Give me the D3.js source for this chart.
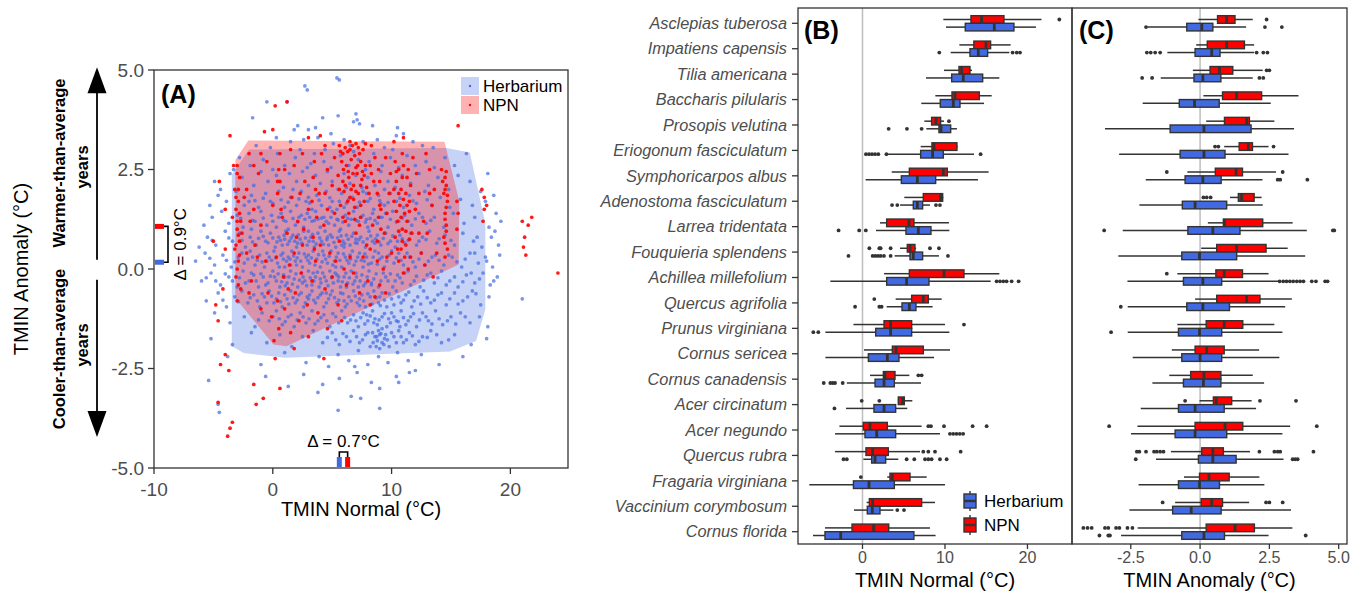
<!DOCTYPE html>
<html><head><meta charset="utf-8">
<script src="https://cdn.jsdelivr.net/npm/d3@7"></script>
<style>body{margin:0;background:#fff}svg{display:block;font-family:"Liberation Sans",Arial,Helvetica,sans-serif}</style>
</head><body><svg id="c" width="1365" height="605"></svg>
<script>
// ---------------- DATA ----------------
const groups = ["Herbarium", "NPN"];
const groupColors = {Herbarium: "#4169E1", NPN: "#FF0000"};
const xTicksA = [-10, 0, 10, 20];
const yTicksA = [-5, -2.5, 0, 2.5, 5];
const xTicksB = [0, 10, 20];
const xTicksC = [-2.5, 0, 2.5, 5];
const meanNormal = {Herbarium: 5.6, NPN: 6.3};
const meanAnomaly = {Herbarium: 0.17, NPN: 1.07};

const herbariumHull = [[-3.45,2.37],[-2.0,3.0],[14.6,3.04],[16.58,2.93],[17.89,1.15],[17.89,-1.02],[17.11,-1.81],[14.92,-2.07],[1.0,-2.23],[-2.44,-2.11],[-3.45,-1.94]];
const npnHull = [[-3.15,2.74],[-2.06,3.23],[14.45,3.2],[15.7,1.7],[15.64,0.11],[1.16,-1.94],[0.06,-1.9],[-3.15,-0.73]];

const herbariumPoints = [
[5.4,4.8],[5.6,4.75],[2.7,4.6],[2.9,4.5],[-0.5,4.2],[1.2,4.2],[4.2,3.8],[5.5,3.85],[7.0,3.9],[7.1,3.75],[-1.7,3.8],[2.1,3.6],[3.6,3.55],[8.4,3.6],[10.5,3.55],[7.3,3.65],[6.8,3.7],[1.8,3.5],[3.0,3.5],[4.9,3.4],[10.4,3.35],[11.0,3.4],
[0.3,3.3],[1.5,3.2],[2.6,3.25],[3.8,3.3],[5.1,3.15],[6.0,3.25],[6.5,3.1],[7.6,3.2],[8.8,3.25],[9.4,3.05],[11.8,3.2],[12.6,3.1],[-1.4,3.1],[-0.2,3.05],[13.5,3.05],[4.4,3.0],[10.1,3.0],[2.3,3.0],
[-2.8,2.8],[-1.9,2.6],[-0.8,2.75],[0.4,2.9],[1.0,2.6],[1.9,2.8],[2.9,2.55],[3.5,2.9],[4.3,2.7],[4.9,2.55],[5.7,2.85],[6.4,2.6],[7.2,2.75],[7.8,2.5],[8.5,2.9],[9.2,2.6],[9.9,2.8],[10.6,2.55],[11.3,2.85],[12.0,2.6],[12.9,2.7],[13.6,2.55],[14.5,2.8],[15.3,2.6],[16.3,2.9],[-3.3,2.5],[0.0,2.5],[6.8,2.95],[3.2,2.65],[8.1,2.7],
[-4.9,2.2],[-3.6,2.4],[-2.6,2.3],[-1.6,2.1],[-1.0,2.45],[-0.4,2.2],[0.3,2.35],[0.9,2.05],[1.4,2.4],[2.0,2.2],[2.5,2.45],[3.0,2.1],[3.6,2.35],[4.0,2.15],[4.6,2.45],[5.0,2.2],[5.5,2.0],[6.0,2.4],[6.5,2.15],[7.0,2.35],[7.5,2.05],[8.0,2.3],[8.6,2.1],[9.1,2.45],[9.7,2.2],[10.3,2.05],[10.9,2.35],[11.6,2.15],[12.3,2.4],[13.1,2.1],[13.9,2.3],[14.8,2.0],[15.6,2.35],[16.6,2.2],[17.5,1.95],[18.1,2.4],[-4.4,2.0],[1.7,2.0],[6.2,2.05],[9.4,2.0],
[-5.3,1.6],[-4.6,1.85],[-3.9,1.7],[-3.1,1.95],[-2.4,1.6],[-1.8,1.85],[-1.2,1.55],[-0.6,1.9],[0.0,1.65],[0.5,1.95],[1.0,1.55],[1.5,1.8],[2.0,1.6],[2.4,1.95],[2.8,1.7],[3.3,1.5],[3.7,1.85],[4.1,1.6],[4.5,1.95],[5.0,1.7],[5.4,1.5],[5.8,1.9],[6.2,1.65],[6.7,1.8],[7.1,1.55],[7.6,1.95],[8.0,1.7],[8.5,1.5],[8.9,1.85],[9.4,1.6],[9.9,1.9],[10.4,1.7],[11.0,1.55],[11.5,1.85],[12.1,1.65],[12.8,1.95],[13.4,1.6],[14.1,1.8],[14.9,1.55],[15.8,1.75],[16.8,1.6],[17.9,1.7],[18.6,1.85],[-2.0,1.7],[3.0,1.8],[6.0,1.55],[9.1,1.65],[4.8,1.55],[7.9,1.9],
[-5.8,1.1],[-5.1,1.3],[-4.3,1.45],[-3.7,1.15],[-3.0,1.35],[-2.5,1.05],[-2.0,1.4],[-1.5,1.2],[-1.0,1.45],[-0.5,1.1],[-0.1,1.35],[0.3,1.05],[0.7,1.4],[1.1,1.2],[1.5,1.45],[1.9,1.1],[2.2,1.3],[2.6,1.05],[2.9,1.4],[3.3,1.2],[3.6,1.45],[4.0,1.05],[4.3,1.3],[4.7,1.15],[5.0,1.45],[5.4,1.25],[5.7,1.0],[6.1,1.35],[6.4,1.1],[6.8,1.45],[7.2,1.2],[7.6,1.35],[8.0,1.05],[8.4,1.4],[8.8,1.15],[9.2,1.3],[9.7,1.05],[10.1,1.45],[10.6,1.2],[11.1,1.35],[11.7,1.1],[12.3,1.4],[12.9,1.15],[13.6,1.3],[14.4,1.05],[15.2,1.4],[16.1,1.15],[17.0,1.3],[18.2,1.05],[18.8,1.4],[19.2,1.2],[1.3,1.0],[3.8,1.25],[6.6,1.25],[9.5,1.4],[-1.8,1.0],[2.4,1.35],[5.2,1.1],[7.9,1.25],
[-6.2,0.55],[-5.5,0.8],[-4.8,0.6],[-4.0,0.95],[-3.4,0.7],[-2.8,0.9],[-2.3,0.55],[-1.9,0.8],[-1.4,0.6],[-1.0,0.95],[-0.6,0.7],[-0.2,0.9],[0.2,0.55],[0.5,0.8],[0.8,0.6],[1.1,0.95],[1.4,0.7],[1.7,0.85],[2.0,0.55],[2.3,0.75],[2.6,0.95],[2.9,0.6],[3.2,0.8],[3.5,0.55],[3.8,0.9],[4.1,0.7],[4.4,0.95],[4.7,0.6],[5.0,0.8],[5.3,0.55],[5.6,0.95],[5.9,0.7],[6.2,0.85],[6.5,0.6],[6.8,0.9],[7.1,0.65],[7.4,0.8],[7.8,0.55],[8.1,0.95],[8.4,0.7],[8.8,0.85],[9.1,0.6],[9.5,0.9],[9.9,0.7],[10.3,0.55],[10.7,0.85],[11.1,0.65],[11.6,0.9],[12.1,0.6],[12.6,0.8],[13.2,0.95],[13.8,0.65],[14.5,0.85],[15.3,0.6],[16.0,0.9],[16.9,0.7],[17.6,0.55],[18.4,0.8],[19.0,0.6],[18.7,0.95],[1.0,0.75],[2.1,0.65],[3.4,0.7],[4.6,0.8],[5.8,0.6],[7.0,0.75],[8.6,0.65],[3.0,0.95],[6.0,0.55],
[-6.5,0.2],[-5.7,0.4],[-4.9,0.1],[-4.2,0.35],[-3.5,0.05],[-2.9,0.3],[-2.4,0.15],[-1.9,0.45],[-1.5,0.1],[-1.1,0.35],[-0.7,0.05],[-0.3,0.3],[0.1,0.45],[0.4,0.15],[0.7,0.35],[1.0,0.05],[1.3,0.3],[1.6,0.45],[1.9,0.2],[2.2,0.4],[2.5,0.05],[2.8,0.3],[3.1,0.15],[3.4,0.45],[3.7,0.25],[4.0,0.05],[4.3,0.35],[4.6,0.15],[4.9,0.45],[5.2,0.2],[5.5,0.4],[5.8,0.05],[6.1,0.3],[6.4,0.15],[6.7,0.45],[7.0,0.2],[7.3,0.4],[7.6,0.05],[7.9,0.3],[8.3,0.15],[8.6,0.45],[9.0,0.25],[9.4,0.05],[9.8,0.35],[10.2,0.15],[10.6,0.4],[11.0,0.1],[11.5,0.3],[12.0,0.05],[12.5,0.4],[13.1,0.2],[13.7,0.35],[14.4,0.1],[15.1,0.3],[15.9,0.05],[16.6,0.4],[17.3,0.15],[17.9,0.3],[18.5,0.05],[19.1,0.35],[0.9,0.25],[2.0,0.1],[3.0,0.35],[4.2,0.45],[5.3,0.05],[6.5,0.35],[7.7,0.2],[8.9,0.4],[-0.5,0.2],[1.5,0.1],
[-6.0,-0.3],[-5.2,-0.1],[-4.4,-0.4],[-3.7,-0.2],[-3.0,-0.45],[-2.5,-0.05],[-2.0,-0.3],[-1.6,-0.15],[-1.2,-0.45],[-0.8,-0.2],[-0.4,-0.35],[0.0,-0.05],[0.3,-0.3],[0.6,-0.45],[0.9,-0.15],[1.2,-0.35],[1.5,-0.05],[1.8,-0.25],[2.1,-0.45],[2.4,-0.1],[2.7,-0.3],[3.0,-0.05],[3.3,-0.4],[3.6,-0.2],[3.9,-0.45],[4.2,-0.1],[4.5,-0.3],[4.8,-0.05],[5.1,-0.35],[5.4,-0.15],[5.7,-0.45],[6.0,-0.2],[6.3,-0.35],[6.6,-0.05],[6.9,-0.3],[7.2,-0.45],[7.5,-0.15],[7.8,-0.35],[8.1,-0.05],[8.5,-0.25],[8.9,-0.45],[9.3,-0.1],[9.7,-0.3],[10.1,-0.45],[10.5,-0.15],[10.9,-0.35],[11.4,-0.05],[11.9,-0.3],[12.4,-0.45],[13.0,-0.15],[13.6,-0.35],[14.2,-0.05],[14.9,-0.3],[15.6,-0.45],[16.3,-0.15],[17.0,-0.35],[17.7,-0.1],[18.3,-0.4],[18.9,-0.2],[1.0,-0.2],[2.5,-0.35],[4.0,-0.25],[5.5,-0.3],[7.0,-0.1],[8.3,-0.4],[3.4,-0.1],[6.2,-0.45],
[-5.6,-0.8],[-4.6,-0.6],[-3.9,-0.95],[-3.2,-0.7],[-2.6,-0.55],[-2.1,-0.85],[-1.6,-0.65],[-1.1,-0.95],[-0.7,-0.7],[-0.3,-0.55],[0.1,-0.85],[0.5,-0.6],[0.8,-0.95],[1.2,-0.75],[1.5,-0.55],[1.9,-0.85],[2.2,-0.65],[2.6,-0.95],[2.9,-0.7],[3.3,-0.55],[3.6,-0.85],[4.0,-0.65],[4.3,-0.95],[4.7,-0.75],[5.0,-0.55],[5.4,-0.85],[5.7,-0.6],[6.1,-0.95],[6.4,-0.7],[6.8,-0.55],[7.1,-0.85],[7.5,-0.65],[7.8,-0.95],[8.2,-0.7],[8.5,-0.55],[8.9,-0.85],[9.2,-0.6],[9.6,-0.95],[10.0,-0.75],[10.4,-0.55],[10.8,-0.85],[11.2,-0.65],[11.7,-0.95],[12.2,-0.7],[12.7,-0.55],[13.3,-0.85],[13.9,-0.65],[14.6,-0.9],[15.3,-0.6],[16.0,-0.8],[16.8,-0.55],[17.5,-0.9],[18.2,-0.7],[3.0,-0.75],[6.0,-0.8],[9.0,-0.7],[4.5,-0.6],[7.3,-0.75],
[-4.9,-1.1],[-3.6,-1.35],[-2.4,-1.2],[-1.5,-1.45],[-0.9,-1.1],[-0.3,-1.3],[0.3,-1.05],[0.8,-1.4],[1.3,-1.2],[1.8,-1.45],[2.3,-1.1],[2.8,-1.35],[3.3,-1.05],[3.8,-1.3],[4.3,-1.15],[4.8,-1.45],[5.3,-1.2],[5.8,-1.05],[6.3,-1.35],[6.8,-1.15],[7.2,-1.45],[7.6,-1.1],[8.0,-1.3],[8.4,-1.05],[8.8,-1.4],[9.2,-1.2],[9.6,-1.45],[10.0,-1.1],[10.4,-1.3],[10.8,-1.05],[11.2,-1.4],[11.6,-1.2],[12.1,-1.45],[12.6,-1.1],[13.1,-1.3],[13.7,-1.05],[14.3,-1.4],[15.0,-1.2],[15.8,-1.1],[16.6,-1.35],[17.4,-1.2],[18.1,-1.45],[8.6,-1.25],[9.9,-1.35],[7.9,-1.15],[10.7,-1.45],
[-5.2,-1.75],[-3.4,-1.9],[-1.8,-1.6],[-0.5,-1.85],[0.6,-1.65],[1.6,-1.95],[2.5,-1.7],[3.4,-1.55],[4.2,-1.85],[5.0,-1.6],[5.6,-1.9],[6.2,-1.7],[6.8,-1.55],[7.3,-1.85],[7.8,-1.65],[8.2,-1.95],[8.6,-1.7],[8.9,-1.55],[9.2,-1.85],[9.5,-1.65],[9.8,-1.95],[10.2,-1.7],[10.6,-1.55],[11.0,-1.85],[11.5,-1.6],[12.0,-1.9],[12.6,-1.7],[13.3,-1.55],[14.2,-1.85],[15.3,-1.65],[16.7,-1.9],[18.0,-1.75],[8.8,-1.8],[9.0,-1.65],[9.4,-1.75],[8.4,-1.6],
[-3.8,-2.2],[-1.0,-2.4],[1.0,-2.1],[2.8,-2.35],[3.9,-2.2],[4.7,-2.45],[5.5,-2.15],[6.4,-2.3],[7.2,-2.05],[8.0,-2.4],[8.9,-2.2],[9.7,-2.35],[10.5,-2.1],[11.4,-2.3],[12.5,-2.15],[14.0,-2.4],[16.0,-2.2],[6.9,-2.45],
[-5.4,-2.8],[-0.6,-2.7],[2.6,-2.65],[4.2,-2.9],[5.6,-2.75],[7.1,-2.6],[8.3,-2.85],[9.0,-3.0],[10.4,-2.7],[11.5,-2.6],[10.6,-2.85],[12.0,-2.55],[6.6,-3.2],[7.4,-3.25],[9.0,-3.5],[5.5,-3.55],[-4.6,-3.4],[-4.5,-3.6],[3.8,-3.1],[1.3,-2.95],[21.0,-0.75],
[-1.5,1.72],[-0.8,1.78],[-0.2,1.7],[0.7,1.74],[1.3,1.68],[2.2,1.76],[3.1,1.66],[3.9,1.73],[4.8,1.79],[5.6,1.7],[6.4,1.75],[7.3,1.68],[8.2,1.77],[9.0,1.72],[9.7,1.67],[10.7,1.78],[11.8,1.71],[13.0,1.74],
[-2.7,1.27],[-1.7,1.22],[-0.8,1.28],[0.0,1.2],[0.5,1.3],[0.9,1.23],[1.7,1.27],[2.1,1.18],[2.7,1.25],[3.1,1.3],[3.5,1.22],[4.1,1.28],[4.5,1.2],[4.9,1.3],[5.5,1.23],[5.9,1.18],[6.3,1.27],[7.0,1.22],[7.4,1.3],[7.8,1.18],[8.2,1.27],[8.6,1.22],[9.0,1.3],[9.9,1.25],[10.4,1.18],[10.9,1.28],[11.4,1.2],[12.0,1.26],[12.6,1.3],[13.3,1.22],
[-5.1,0.72],[-3.7,0.78],[-2.6,0.72],[-1.7,0.68],[-1.2,0.77],[-0.8,0.82],[-0.4,0.66],[0.0,0.78],[0.35,0.68],[0.65,0.72],[0.95,0.85],[1.25,0.62],[1.55,0.78],[1.85,0.7],[2.15,0.86],[2.45,0.65],[2.75,0.78],[3.05,0.7],[3.35,0.87],[3.65,0.63],[3.95,0.78],[4.25,0.62],[4.55,0.74],[4.85,0.86],[5.15,0.67],[5.45,0.78],[5.75,0.83],[6.05,0.64],[6.35,0.75],[6.65,0.82],[6.95,0.66],[7.25,0.74],[7.6,0.68],[7.95,0.76],[8.25,0.83],[8.65,0.76],[8.95,0.68],[9.3,0.77],[9.7,0.64],[10.1,0.83],[10.5,0.7],[10.9,0.76],[11.4,0.72],[12.3,0.7],[12.9,0.74],[14.0,0.76],[15.0,0.72],[17.2,0.8],
[-5.3,0.27],[-3.9,0.22],[-3.2,0.18],[-2.6,0.4],[-2.1,0.25],[-1.7,0.3],[-1.3,0.22],[-0.9,0.18],[-0.5,0.4],[-0.1,0.22],[0.25,0.28],[0.55,0.05],[0.85,0.4],[1.15,0.2],[1.45,0.25],[1.75,0.33],[2.05,0.28],[2.35,0.2],[2.65,0.38],[2.95,0.22],[3.25,0.28],[3.55,0.1],[3.85,0.36],[4.15,0.18],[4.45,0.25],[4.75,0.32],[5.05,0.1],[5.35,0.3],[5.65,0.22],[5.95,0.38],[6.25,0.22],[6.55,0.25],[6.85,0.1],[7.15,0.3],[7.45,0.22],[7.75,0.38],[8.05,0.12],[8.45,0.3],[8.8,0.12],[9.2,0.3],[9.6,0.2],[10.0,0.45],[10.4,0.28],[10.8,0.22],[11.3,0.4],[11.8,0.18],[12.3,0.25],[12.8,0.1],[13.4,0.3],[14.0,0.22],[14.8,0.35],[15.5,0.18],[16.2,0.25],[17.0,0.4],[18.0,0.2],
[-5.6,-0.22],[-4.8,-0.3],[-4.0,-0.12],[-3.4,-0.3],[-2.8,-0.22],[-2.3,-0.35],[-1.8,-0.1],[-1.4,-0.3],[-1.0,-0.12],[-0.6,-0.4],[-0.2,-0.18],[0.15,-0.2],[0.45,-0.12],[0.75,-0.32],[1.05,-0.42],[1.35,-0.2],[1.65,-0.38],[1.95,-0.12],[2.25,-0.28],[2.55,-0.2],[2.85,-0.42],[3.15,-0.22],[3.45,-0.3],[3.75,-0.08],[4.05,-0.35],[4.35,-0.2],[4.65,-0.42],[4.95,-0.22],[5.25,-0.1],[5.55,-0.2],[5.85,-0.32],[6.15,-0.1],[6.45,-0.22],[6.75,-0.38],[7.05,-0.2],[7.35,-0.3],[7.65,-0.42],[7.95,-0.2],[8.3,-0.35],[8.7,-0.12],[9.1,-0.3],[9.5,-0.2],[9.9,-0.12],[10.3,-0.3],[10.7,-0.22],[11.1,-0.1],[11.6,-0.4],[12.1,-0.18],[12.7,-0.28],[13.3,-0.1],[13.9,-0.22],[14.6,-0.4],[15.3,-0.2],[16.0,-0.32],[16.7,-0.1],[17.4,-0.25],[18.6,-0.3],
[-4.2,-0.78],[-2.9,-0.82],[-1.9,-0.72],[-1.3,-0.8],[-0.9,-0.62],[-0.5,-0.85],[-0.1,-0.68],[0.3,-0.75],[0.65,-0.82],[1.0,-0.65],[1.35,-0.88],[1.7,-0.72],[2.05,-0.78],[2.4,-0.6],[2.75,-0.85],[3.1,-0.65],[3.45,-0.78],[3.8,-0.72],[4.15,-0.6],[4.5,-0.85],[4.85,-0.65],[5.2,-0.72],[5.55,-0.78],[5.9,-0.62],[6.25,-0.88],[6.6,-0.8],[6.95,-0.68],[7.3,-0.92],[7.65,-0.8],[8.0,-0.62],[8.35,-0.88],[8.7,-0.72],[9.05,-0.92],[9.4,-0.78],[9.8,-0.62],[10.2,-0.9],[10.6,-0.7],[11.0,-0.78],[11.45,-0.58],[11.9,-0.8],[12.45,-0.88],[13.0,-0.72],[13.6,-0.78],[14.2,-0.6],[14.9,-0.75],[15.6,-0.88],[16.4,-0.7],[17.1,-0.62],
[-1.2,-1.28],[0.0,-1.2],[0.55,-1.25],[1.05,-1.32],[1.55,-1.15],[2.05,-1.28],[2.55,-1.2],[3.05,-1.25],[3.55,-1.38],[4.05,-1.22],[4.55,-1.3],[5.05,-1.12],[5.55,-1.35],[6.05,-1.22],[6.55,-1.28],[7.0,-1.3],[7.4,-1.22],[7.75,-1.38],[8.2,-1.18],[8.5,-1.35],[8.95,-1.28],[9.4,-1.12],[9.75,-1.25],[10.2,-1.2],[10.55,-1.32],[11.0,-1.22],[11.4,-1.3],[11.85,-1.12],[12.35,-1.28],[12.9,-1.2],[13.4,-1.38],[14.0,-1.25],[14.7,-1.3],[15.4,-1.38],[16.2,-1.2],
[4.6,-1.72],[5.3,-1.78],[5.9,-1.62],[6.5,-1.82],[7.05,-1.7],[7.55,-1.78],[8.0,-1.6],[8.45,-1.85],[8.75,-1.7],[9.1,-1.62],[9.35,-1.9],[9.65,-1.78],[10.0,-1.6],[10.4,-1.85],[10.8,-1.7],[11.25,-1.78],[11.75,-1.68],[12.3,-1.82],[13.0,-1.72],[13.8,-1.65],[14.8,-1.78],[9.0,-2.0],[8.7,-1.95],[9.2,-1.5]
];

const npnPoints = [
[0.2,4.1],[1.2,4.2],[0.0,3.5],[-0.7,3.45],[3.0,3.3],[4.0,3.35],[11.0,3.3],[15.6,3.6],[-3.6,3.35],[6.5,3.2],[7.0,3.15],[7.8,3.15],[8.3,3.1],[10.2,3.2],
[5.6,3.1],[5.9,2.9],[6.3,2.95],[6.7,3.1],[7.2,3.05],[7.6,3.0],[5.8,2.7],[6.2,2.6],[6.6,2.75],[7.0,2.55],[7.4,2.7],[7.8,2.6],[5.5,2.35],[5.9,2.2],[6.4,2.3],[6.8,2.1],[7.1,2.4],[7.5,2.25],[7.9,2.05],[6.0,1.95],[6.5,1.8],[7.2,1.9],[7.7,1.7],[5.7,1.6],[6.9,1.55],[8.2,2.6],[8.5,2.2],[8.1,1.9],[8.6,2.8],[8.3,2.4],[5.2,2.8],[5.0,2.1],[4.6,2.5],[4.4,1.9],
[10.3,2.7],[10.6,2.5],[11.0,2.6],[11.3,2.3],[10.4,2.2],[10.8,2.0],[11.2,1.9],[11.6,2.1],[10.2,1.7],[10.7,1.6],[11.1,1.4],[11.5,1.7],[10.5,1.2],[10.9,1.0],[11.3,1.2],[11.7,0.9],[10.3,0.8],[10.8,0.5],[11.2,0.6],[11.6,0.3],[10.6,0.2],[11.0,-0.1],[11.4,0.0],[9.6,1.4],[9.9,2.4],[9.4,0.9],[12.0,1.5],[12.3,0.9],[12.1,2.4],[9.8,1.9],[10.0,0.4],[12.5,0.4],
[14.5,2.3],[14.6,2.1],[14.4,1.9],[14.7,1.7],[14.5,1.4],[14.6,1.1],[14.4,0.8],[14.7,0.5],[14.5,0.3],[15.5,1.7],[15.6,1.4],[15.5,1.0],[14.2,2.5],[13.4,1.6],[13.0,0.9],[13.6,2.0],[13.2,2.5],[13.8,0.4],
[-3.0,2.6],[-2.8,2.3],[-3.2,2.0],[-2.9,1.7],[-3.1,1.5],[-2.7,1.2],[-3.0,1.0],[-2.8,0.7],[-3.2,0.5],[-2.9,0.2],[-3.1,-0.2],[-2.7,-0.5],[-3.0,-0.8],[-2.6,0.9],[-2.4,1.8],[-2.2,0.4],[-3.4,1.3],[-3.3,2.6],
[0.0,1.6],[0.4,2.2],[0.8,1.3],[1.2,0.9],[1.6,1.8],[2.1,1.2],[2.5,0.6],[3.0,1.5],[3.4,0.8],[3.9,1.9],[4.3,1.1],[4.8,0.4],[5.2,1.4],[5.6,0.7],[6.1,1.2],[6.5,0.3],[7.0,0.9],[7.4,1.3],[7.9,0.6],[8.4,1.1],[8.8,0.2],[9.1,1.5],[0.3,0.3],[0.9,-0.2],[1.4,0.1],[1.9,-0.6],[2.4,-0.1],[2.9,-0.9],[3.3,-0.3],[3.8,-1.1],[4.4,-0.5],[5.0,-0.2],[5.5,-0.9],[6.2,-0.4],[6.8,-0.1],[7.3,-0.6],[8.0,-0.3],[8.6,-0.7],[9.3,0.0],[-0.4,-0.6],[-0.1,-1.2],[0.5,-1.5],[1.0,-1.0],[1.5,-1.6],[2.2,-1.3],[0.1,-1.8],[-1.5,0.6],[-1.0,1.1],[-1.8,-0.3],[-0.6,0.2],[-1.2,2.4],[-0.5,2.7],[0.6,2.9],[1.8,2.6],[2.7,2.2],[3.5,2.7],[4.1,2.9],[2.3,1.9],[1.0,2.5],[-1.6,1.5],[9.0,-0.4],[9.6,0.3],[12.8,0.1],[13.5,-0.2],[8.2,-0.9],[4.6,-1.5],[3.0,-1.7],[5.8,-1.3],
[-4.0,-2.15],[-3.7,-2.55],[-4.4,-2.4],[-4.6,-3.35],[-3.6,-4.0],[-3.4,-3.85],[-3.8,-4.2],[0.6,-3.0],[-1.4,-3.4],[-0.8,-3.25],[0.2,-2.25],[-1.6,-2.9],[1.8,-2.0],[4.3,-2.25],
[-4.0,1.5],[-4.5,2.2],[-4.0,0.5],[-4.2,-0.5],[-4.6,-1.3],[-4.8,-0.9],[-5.0,0.7],
[21.0,1.2],[21.2,0.8],[21.8,1.3],[21.5,1.1],[21.1,0.55],[21.3,0.35],[24.0,-0.1],[17.8,1.8],[17.8,1.5],[17.6,2.0],[18.0,1.6],[17.7,1.2],
[5.7,2.95],[6.1,3.05],[6.5,3.0],[6.9,2.85],[7.3,2.9],[5.95,2.5],[6.35,2.45],[6.75,2.4],[7.15,2.6],[7.55,2.45],[6.1,2.1],[6.6,2.0],[7.0,1.95],[7.4,2.1],[6.3,1.7],[6.8,1.75],[7.4,1.6],[5.6,2.0],[7.7,2.35],[6.4,1.4],[6.9,1.25],[7.3,1.1],[5.9,1.3],
[10.4,2.45],[10.9,2.3],[11.4,2.5],[10.6,1.9],[11.0,1.75],[11.5,1.45],[10.4,1.45],[10.8,1.3],[11.2,0.95],[10.6,0.95],[11.5,0.75],[10.9,0.7],[10.5,0.5],[11.1,0.3],[11.3,1.6],[10.2,2.0],
[14.6,2.45],[14.5,2.0],[14.6,1.55],[14.5,1.25],[14.6,0.95],[14.5,0.65],[14.3,2.2],[14.7,1.85],
[-3.0,2.4],[-2.9,2.0],[-3.1,1.8],[-2.8,1.4],[-3.0,1.2],[-2.9,0.85],[-3.1,0.6],[-2.8,0.35],[-3.0,0.0],[-2.9,-0.4],
[8.9,2.5],[9.0,2.2],[8.8,1.9],[9.0,1.6],[8.9,1.3],[9.1,1.0],[8.8,0.7],[0.5,2.5],[0.6,2.2],[0.4,1.9],[0.7,1.5],
[3.4,2.3],[3.6,2.0],[3.3,1.7],[3.7,1.3],[3.5,0.5],[3.6,0.2],
[1.8,0.4],[2.6,1.0],[4.0,0.6],[4.6,1.5],[5.3,0.2],[6.0,0.0],[7.6,0.3],[8.2,0.5],[9.5,-0.6],[12.3,1.9],[12.7,1.2],[13.2,1.9],[12.9,2.9],[10.9,2.9],[11.8,2.8],[9.5,2.8],[2.5,2.9],[4.4,3.1],[1.5,3.0],[-1.0,2.9],[-2.0,2.9],[-1.6,2.6],[-2.2,2.0],[-1.9,1.2],[-1.3,0.3],[-2.0,-0.6],[-1.0,-1.0],[0.4,-0.8],[1.3,-0.5],[2.0,0.8]
];

const species = ["Asclepias tuberosa","Impatiens capensis","Tilia americana","Baccharis pilularis","Prosopis velutina","Eriogonum fasciculatum","Symphoricarpos albus","Adenostoma fasciculatum","Larrea tridentata","Fouquieria splendens","Achillea millefolium","Quercus agrifolia","Prunus virginiana","Cornus sericea","Cornus canadensis","Acer circinatum","Acer negundo","Quercus rubra","Fragaria virginiana","Vaccinium corymbosum","Cornus florida"];

// [lower whisker, Q1, median, Q3, upper whisker]
const normalHerbarium = [[10.12,12.46,15.98,18.36,21.03],[10.69,13.03,14.04,15.17,17.8],[7.7,10.81,12.22,14.57,16.59],[7.13,9.43,11.01,11.82,14.73],[7.74,9.27,9.52,10.69,11.45],[3.0,7.05,8.5,9.8,13.52],[0.38,4.71,6.65,8.87,14.0],[4.55,6.16,6.65,7.29,8.18],[1.64,5.27,6.77,8.3,10.53],[3.9,5.76,6.16,7.29,9.27],[-3.9,2.93,5.35,8.06,15.54],[2.93,4.79,5.68,6.48,8.5],[-4.5,1.6,3.41,5.96,10.53],[-4.5,0.71,3.01,4.42,8.67],[-1.9,1.52,2.61,3.86,7.09],[-2.0,1.39,2.61,4.02,5.43],[-3.33,0.3,1.72,4.02,9.39],[0.1,1.11,1.52,2.81,4.34],[-6.45,-1.1,0.79,3.86,10.0],[-1.03,0.58,1.19,2.12,3.74],[-6.0,-4.55,-2.64,6.23,8.86]];
const normalHerbariumOut = [[],[9.31,18.2,18.7,19.1],[],[],[3.17,5.39,7.17],[0.42,0.79,1.15,1.52,1.92,2.9,14.32],[],[3.58,4.22,8.91,9.39],[-2.9,-0.4,0.4],[-1.7,1.23,1.56,1.88,2.2,2.6,3.41,10.36],[16.26,16.67,17.07,17.47,18.08,18.93],[-0.9,2.04,2.32],[-5.96,-5.36],[],[-4.7,-3.9,-3.6,-3.33,-2.4],[-3.4],[10.6,11.0,11.4,11.8,12.2],[-2.3,-1.9,5.35,6.28,7.58,7.98,8.38,9.39,10.2],[],[4.22,5.03],[]];
const normalNPN = [[9.8,13.15,14.44,17.15,21.7],[11.74,13.5,14.97,15.53,17.96],[9.88,11.7,12.02,13.03,13.27],[8.83,10.85,11.21,14.16,15.66],[7.5,8.38,8.91,9.47,9.88],[7.05,8.42,8.67,11.45,11.54],[3.54,5.68,9.8,10.28,15.29],[5.07,7.37,9.47,9.72,9.8],[2.12,2.93,5.64,6.24,10.48],[4.55,5.43,5.76,6.36,6.5],[2.61,5.68,9.88,12.3,16.59],[4.02,5.96,7.37,7.98,9.6],[-1.1,2.61,3.41,5.96,10.0],[0.18,3.62,4.06,7.37,10.61],[0.91,2.53,2.73,3.94,5.68],[4.3,4.34,4.87,5.07,6.04],[-2.8,0.1,0.91,3.01,7.17],[-3.33,0.42,1.23,3.13,6.97],[3.0,3.33,3.62,5.76,7.78],[0.5,0.83,1.23,7.17,8.79],[-4.55,-1.27,1.36,3.18,8.18]];
const normalNPNOut = [[23.86],[],[],[],[10.48],[],[],[],[],[0.83,2.04,2.2,3.41,8.18,9.27],[],[1.43],[12.3],[],[6.77,7.17],[-0.1,2.04],[7.98,8.3,9.88,13.35,15.05],[7.37,7.98,8.79,11.9],[-0.2],[],[]];

const anomalyHerbarium = [[-1.9,-0.48,0.06,0.46,1.66],[-1.18,-0.18,0.42,0.72,1.95],[-1.42,-0.22,0.1,0.75,1.9],[-2.07,-0.75,-0.2,0.69,2.55],[-3.43,-1.08,0.14,1.84,3.39],[-2.92,-0.72,0.14,0.9,3.19],[-1.96,-0.54,0.1,0.76,2.25],[-2.19,-0.64,-0.18,0.96,2.26],[-2.79,-0.44,0.46,1.44,3.85],[-2.95,-0.66,-0.02,1.32,3.79],[-2.62,-0.6,0.1,0.78,2.83],[-2.61,-0.48,0.1,1.06,3.07],[-2.61,-0.78,-0.02,0.78,2.97],[-2.43,-0.66,0.0,0.78,2.86],[-1.72,-0.6,0.12,0.75,2.31],[-2.14,-0.78,-0.18,0.87,2.02],[-2.49,-0.9,-0.18,0.96,2.97],[-1.59,-0.06,0.46,1.3,3.01],[-2.22,-0.78,-0.02,0.7,2.32],[-2.55,-0.99,-0.32,0.76,3.28],[-2.85,-0.66,0.14,0.88,2.47]];
const anomalyHerbariumOut = [[-1.95,2.34,2.95],[-1.92,-1.78,-1.62,-1.44,2.04,2.28,2.43],[-2.09,-1.73,2.14,2.28],[],[],[],[2.8,2.89,3.87],[],[-3.46,4.79,4.84],[],[2.87,3.0,3.12,3.24,3.36,3.49,3.61,3.73,4.03,4.18,4.51,4.6],[-2.86],[-3.21],[],[],[],[],[-2.32,3.34,3.43,3.52],[],[],[-3.63,-3.31,-3.25,3.81]];
const anomalyNPN = [[-0.06,0.63,0.96,1.26,1.9],[-0.14,0.26,0.96,1.6,1.95],[-0.26,0.36,0.7,1.18,2.26],[0.12,0.81,1.32,2.22,3.55],[0.22,0.88,1.68,1.78,2.68],[0.87,1.41,1.74,1.89,2.47],[-0.46,0.55,1.3,1.53,2.74],[1.08,1.38,1.5,1.95,2.22],[0.28,0.84,0.88,2.26,3.34],[0.04,0.6,1.32,2.38,3.16],[-0.82,0.57,0.87,1.53,2.47],[-0.18,0.6,1.68,2.16,3.31],[-0.82,0.22,0.87,1.54,2.68],[-1.02,-0.18,0.24,0.87,2.13],[-1.11,-0.34,0.14,0.75,1.9],[-0.02,0.48,0.58,1.14,1.86],[-2.26,-0.18,0.9,1.54,3.25],[-1.05,0.06,0.46,0.84,1.8],[-0.58,-0.02,0.32,1.05,2.14],[-0.9,0.04,0.42,0.81,1.77],[-2.25,0.22,1.26,1.96,3.33]];
const anomalyNPNOut = [[2.4],[],[2.4,2.5],[],[],[0.54,0.66,2.65],[-1.2,2.98],[0.12,0.24,0.38],[],[],[-1.2],[],[],[],[],[-0.54,2.16,3.46],[-3.28,4.21],[-2.28,-2.19,-1.95,-1.66,-1.56,-1.44,-1.32,2.14,2.68,2.8,2.89,4.09],[],[-1.35,2.38,2.5,2.98],[-4.21,-4.06,-3.91,-3.43,-3.31,-3.03,-2.91,-2.62,-2.44]];

// ---------------- DRAW ----------------
const svg = d3.select("#c");
svg.append("rect").attr("width",1365).attr("height",605).attr("fill","#fff");
const dark = "#333333", tickGrey = "#4d4d4d";

// ===== Panel A =====
const A = {l:154, r:568, t:70, b:468};
const xA = d3.scaleLinear().domain([-10, 24.85]).range([A.l, A.r]);
const yA = d3.scaleLinear().domain([-5, 5]).range([A.b, A.t]);
svg.append("clipPath").attr("id","clipA").append("rect").attr("x",A.l).attr("y",A.t).attr("width",A.r-A.l).attr("height",A.b-A.t);
const gA = svg.append("g").attr("clip-path","url(#clipA)");
const hullLine = d3.line().x(d=>xA(d[0])).y(d=>yA(d[1]));
gA.append("path").attr("d", hullLine(herbariumHull)+"Z").attr("fill", groupColors.Herbarium).attr("fill-opacity",0.3);
gA.append("path").attr("d", hullLine(npnHull)+"Z").attr("fill", groupColors.NPN).attr("fill-opacity",0.3);
gA.selectAll("circle.h").data(herbariumPoints).join("circle").attr("class","h")
  .attr("cx",d=>xA(d[0])).attr("cy",d=>yA(d[1])).attr("r",1.85).attr("fill",groupColors.Herbarium).attr("fill-opacity",0.7);
gA.selectAll("circle.n").data(npnPoints).join("circle").attr("class","n")
  .attr("cx",d=>xA(d[0])).attr("cy",d=>yA(d[1])).attr("r",1.85).attr("fill",groupColors.NPN).attr("fill-opacity",0.9);

// mean markers on the axes
const lx0 = A.l+1, lx1 = A.l+10, bx = A.l+14;
groups.forEach(g=>{
  svg.append("line").attr("x1",lx0).attr("x2",lx1).attr("y1",yA(meanAnomaly[g])).attr("y2",yA(meanAnomaly[g]))
    .attr("stroke",groupColors[g]).attr("stroke-width",5);
  svg.append("line").attr("x1",xA(meanNormal[g])).attr("x2",xA(meanNormal[g])).attr("y1",A.b-1).attr("y2",A.b-11)
    .attr("stroke",groupColors[g]).attr("stroke-width",5);
});
svg.append("path").attr("fill","none").attr("stroke","#000").attr("stroke-width",1.6)
  .attr("d",`M${lx1},${yA(meanAnomaly.NPN)}H${bx}V${yA(meanAnomaly.Herbarium)}H${lx1}`);
svg.append("path").attr("fill","none").attr("stroke","#000").attr("stroke-width",1.6)
  .attr("d",`M${xA(meanNormal.Herbarium)},${A.b-11}V${A.b-16}H${xA(meanNormal.NPN)}V${A.b-11}`);
svg.append("text").attr("transform",`translate(${bx+12},${(yA(meanAnomaly.NPN)+yA(meanAnomaly.Herbarium))/2}) rotate(-90)`)
  .attr("text-anchor","middle").attr("dy","0.35em").attr("font-size",17).attr("fill","#000").text("\u0394 = 0.9\u00b0C");
svg.append("text").attr("x",(xA(meanNormal.Herbarium)+xA(meanNormal.NPN))/2).attr("y",A.b-21)
  .attr("text-anchor","middle").attr("font-size",17).attr("fill","#000").text("\u0394 = 0.7\u00b0C");

svg.append("rect").attr("x",A.l).attr("y",A.t).attr("width",A.r-A.l).attr("height",A.b-A.t)
  .attr("fill","none").attr("stroke",dark).attr("stroke-width",1.3);
yTicksA.forEach(v=>{
  svg.append("line").attr("x1",A.l-6).attr("x2",A.l).attr("y1",yA(v)).attr("y2",yA(v)).attr("stroke",dark).attr("stroke-width",1.3);
  svg.append("text").attr("x",A.l-10).attr("y",yA(v)).attr("dy","0.36em").attr("text-anchor","end").attr("font-size",19).attr("fill",tickGrey).text(v.toFixed(1));
});
xTicksA.forEach(v=>{
  svg.append("line").attr("x1",xA(v)).attr("x2",xA(v)).attr("y1",A.b).attr("y2",A.b+6).attr("stroke",dark).attr("stroke-width",1.3);
  svg.append("text").attr("x",xA(v)).attr("y",A.b+28).attr("text-anchor","middle").attr("font-size",19).attr("fill",tickGrey).text(v);
});
svg.append("text").attr("x",(A.l+A.r)/2).attr("y",516).attr("text-anchor","middle").attr("font-size",20).attr("fill","#000").text("TMIN Normal (\u00b0C)");
svg.append("text").attr("transform",`translate(21,${(A.t+A.b)/2}) rotate(-90)`).attr("text-anchor","middle").attr("dy","0.35em").attr("font-size",20).attr("fill","#000").text("TMIN Anomaly (\u00b0C)");
svg.append("text").attr("x",161).attr("y",103).attr("font-size",25).attr("font-weight","bold").attr("fill","#000").text("(A)");

groups.forEach((g,i)=>{
  const ky = 77 + i*19;
  svg.append("rect").attr("x",461).attr("y",ky).attr("width",18).attr("height",18).attr("fill",groupColors[g]).attr("fill-opacity",0.3);
  svg.append("circle").attr("cx",470).attr("cy",ky+9).attr("r",1.2).attr("fill",groupColors[g]);
  svg.append("text").attr("x",483).attr("y",ky+9).attr("dy","0.36em").attr("font-size",17).attr("fill","#000").text(g);
});

const arrowX = 97;
function arrow(y0, y1){
  const dir = y1 < y0 ? -1 : 1;
  svg.append("line").attr("x1",arrowX).attr("x2",arrowX).attr("y1",y0).attr("y2",y1 - dir*20).attr("stroke","#000").attr("stroke-width",1.8);
  svg.append("path").attr("d",`M${arrowX},${y1}L${arrowX-9.5},${y1-dir*26}L${arrowX+9.5},${y1-dir*26}Z`).attr("fill","#000");
}
arrow(yA(0.23), yA(5.07));
arrow(yA(-0.27), yA(-4.22));
function vtext(x, y, s){
  svg.append("text").attr("transform",`translate(${x},${y}) rotate(-90)`).attr("text-anchor","middle").attr("dy","0.35em")
    .attr("font-size",16.5).attr("font-weight","bold").attr("fill","#000").text(s);
}
vtext(59, 163, "Warmer-than-average");
vtext(82, 167, "years");
vtext(59, 349, "Cooler-than-average");
vtext(82, 345, "years");

// ===== Panels B & C =====
const PT = 8, PB = 544;
const xB = d3.scaleLinear().domain([-7.82, 25.4]).range([798, 1072]);
const xC = d3.scaleLinear().domain([-4.62, 5.30]).range([1072, 1347]);
const yS = d3.scalePoint().domain(species).range([23.3, 531.7]);
const bh = yS.step()*0.3;

function zeroLine(x){
  svg.append("line").attr("x1",x(0)).attr("x2",x(0)).attr("y1",PT).attr("y2",PB).attr("stroke","#bebebe").attr("stroke-width",1.5);
}
zeroLine(xB); zeroLine(xC);

function drawBoxes(x, stats, outs, g){
  const gg = svg.append("g");
  species.forEach((sp,i)=>{
    const s = stats[i];
    const yc = yS(sp) + (g==="NPN" ? -bh/2 : bh/2);
    gg.append("line").attr("x1",x(s[0])).attr("x2",x(s[1])).attr("y1",yc).attr("y2",yc).attr("stroke",dark).attr("stroke-width",1.5);
    gg.append("line").attr("x1",x(s[3])).attr("x2",x(s[4])).attr("y1",yc).attr("y2",yc).attr("stroke",dark).attr("stroke-width",1.5);
    gg.append("rect").attr("x",x(s[1])).attr("y",yc-bh/2).attr("width",Math.max(0.5,x(s[3])-x(s[1]))).attr("height",bh)
      .attr("fill",groupColors[g]).attr("stroke",dark).attr("stroke-width",1.4);
    gg.append("line").attr("x1",x(s[2])).attr("x2",x(s[2])).attr("y1",yc-bh/2).attr("y2",yc+bh/2).attr("stroke",dark).attr("stroke-width",2.8);
    outs[i].forEach(o=>{
      gg.append("circle").attr("cx",x(o)).attr("cy",yc).attr("r",1.9).attr("fill",dark);
    });
  });
}
drawBoxes(xB, normalNPN, normalNPNOut, "NPN");
drawBoxes(xB, normalHerbarium, normalHerbariumOut, "Herbarium");
drawBoxes(xC, anomalyNPN, anomalyNPNOut, "NPN");
drawBoxes(xC, anomalyHerbarium, anomalyHerbariumOut, "Herbarium");

svg.append("rect").attr("x",798).attr("y",PT).attr("width",1072-798).attr("height",PB-PT).attr("fill","none").attr("stroke",dark).attr("stroke-width",1.3);
svg.append("rect").attr("x",1072).attr("y",PT).attr("width",1347-1072).attr("height",PB-PT).attr("fill","none").attr("stroke",dark).attr("stroke-width",1.3);

species.forEach(sp=>{
  svg.append("line").attr("x1",792).attr("x2",798).attr("y1",yS(sp)).attr("y2",yS(sp)).attr("stroke",dark).attr("stroke-width",1.3);
  svg.append("text").attr("x",787).attr("y",yS(sp)).attr("dy","0.35em").attr("text-anchor","end").attr("font-size",16.3)
    .attr("font-style","italic").attr("fill",tickGrey).text(sp);
});
function xAxis(x, ticks, fmt){
  ticks.forEach(v=>{
    svg.append("line").attr("x1",x(v)).attr("x2",x(v)).attr("y1",PB).attr("y2",PB+5).attr("stroke",dark).attr("stroke-width",1.3);
    svg.append("text").attr("x",x(v)).attr("y",PB+13).attr("dy","0.36em").attr("text-anchor","middle").attr("font-size",16).attr("fill",tickGrey).text(fmt(v));
  });
}
xAxis(xB, xTicksB, v=>String(v));
xAxis(xC, xTicksC, v=>v.toFixed(1));
svg.append("text").attr("x",935).attr("y",587).attr("text-anchor","middle").attr("font-size",20).attr("fill","#000").text("TMIN Normal (\u00b0C)");
svg.append("text").attr("x",1209.5).attr("y",587).attr("text-anchor","middle").attr("font-size",20).attr("fill","#000").text("TMIN Anomaly (\u00b0C)");
svg.append("text").attr("x",804).attr("y",39).attr("font-size",25).attr("font-weight","bold").attr("fill","#000").text("(B)");
svg.append("text").attr("x",1079).attr("y",39).attr("font-size",25).attr("font-weight","bold").attr("fill","#000").text("(C)");

groups.forEach((g,i)=>{
  const cy = 501 + i*24, cx = 970;
  svg.append("line").attr("x1",cx).attr("x2",cx).attr("y1",cy-10).attr("y2",cy+10).attr("stroke",dark).attr("stroke-width",1.4);
  svg.append("rect").attr("x",cx-6).attr("y",cy-7).attr("width",12).attr("height",14).attr("fill",groupColors[g]).attr("stroke",dark).attr("stroke-width",1.4);
  svg.append("line").attr("x1",cx-6).attr("x2",cx+6).attr("y1",cy).attr("y2",cy).attr("stroke",dark).attr("stroke-width",2.4);
  svg.append("text").attr("x",984).attr("y",cy).attr("dy","0.36em").attr("font-size",17).attr("fill","#000").text(g);
});
</script></body></html>
